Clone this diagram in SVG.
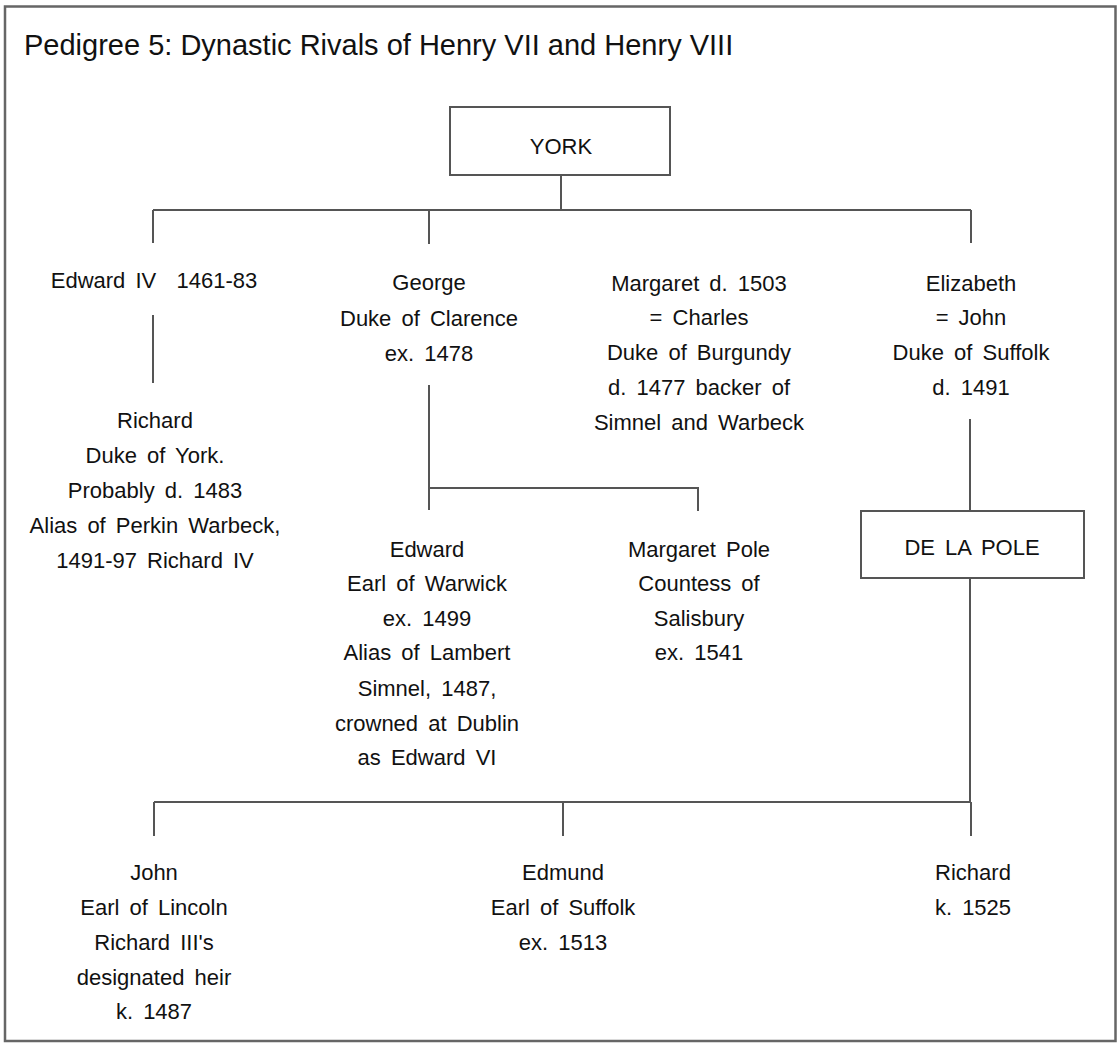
<svg xmlns="http://www.w3.org/2000/svg" width="1120" height="1044" viewBox="0 0 1120 1044">
<style>
text{font-family:"Liberation Sans",Arial,sans-serif;font-size:22px;fill:#111;text-anchor:middle;word-spacing:4px}
.title{font-size:29px;text-anchor:start;word-spacing:0}
.box{fill:#fff;stroke:#555;stroke-width:2}
.ln{fill:none;stroke:#555;stroke-width:2}
</style>
<rect x="0" y="0" width="1120" height="1044" fill="#fff"/>
<rect x="5" y="6.5" width="1110.5" height="1034.5" fill="none" stroke="#666" stroke-width="2.5"/>
<text class="title" x="24" y="55">Pedigree 5: Dynastic Rivals of Henry VII and Henry VIII</text>
<g id="connectors" class="ln">
<path d="M561 175V210M153 210H971M153 210V243M429 210V244M971 210V243"/>
<path d="M153 315V383"/>
<path d="M429 385V510M429 488H698V511"/>
<path d="M970 419V511M970 578V802M154 802H971M154 802V836M563 802V836M971 802V836"/>
</g>
<g id="york"><rect class="box" x="450" y="107" width="220" height="68"/><text x="561" y="154" style="word-spacing:0">YORK</text></g>
<g id="edward4"><text x="154" y="288" xml:space="preserve">Edward IV  1461-83</text></g>
<g id="george"><text x="429" y="290">George</text><text x="429" y="325.5">Duke of Clarence</text><text x="429" y="361">ex. 1478</text></g>
<g id="margaret"><text x="699" y="290.5">Margaret d. 1503</text><text x="699" y="325">= Charles</text><text x="699" y="360">Duke of Burgundy</text><text x="699" y="395">d. 1477 backer of</text><text x="699" y="429.5">Simnel and Warbeck</text></g>
<g id="elizabeth"><text x="971" y="290.5">Elizabeth</text><text x="971" y="325">= John</text><text x="971" y="360">Duke of Suffolk</text><text x="971" y="395">d. 1491</text></g>
<g id="richard-york"><text x="155" y="428">Richard</text><text x="155" y="463">Duke of York.</text><text x="155" y="498">Probably d. 1483</text><text x="155" y="533">Alias of Perkin Warbeck,</text><text x="155" y="568">1491-97 Richard IV</text></g>
<g id="edward-warwick"><text x="427" y="556.5">Edward</text><text x="427" y="591">Earl of Warwick</text><text x="427" y="625.5">ex. 1499</text><text x="427" y="660">Alias of Lambert</text><text x="427" y="695.5">Simnel, 1487,</text><text x="427" y="730.5">crowned at Dublin</text><text x="427" y="764.5">as Edward VI</text></g>
<g id="margaret-pole"><text x="699" y="556.5">Margaret Pole</text><text x="699" y="591">Countess of</text><text x="699" y="625.5">Salisbury</text><text x="699" y="660">ex. 1541</text></g>
<g id="delapole"><rect class="box" x="861" y="511" width="223" height="67"/><text x="972" y="555">DE LA POLE</text></g>
<g id="john"><text x="154" y="880">John</text><text x="154" y="915">Earl of Lincoln</text><text x="154" y="950">Richard III's</text><text x="154" y="985">designated heir</text><text x="154" y="1019">k. 1487</text></g>
<g id="edmund"><text x="563" y="880">Edmund</text><text x="563" y="915">Earl of Suffolk</text><text x="563" y="950">ex. 1513</text></g>
<g id="richard"><text x="973" y="880">Richard</text><text x="973" y="915">k. 1525</text></g>
</svg>
